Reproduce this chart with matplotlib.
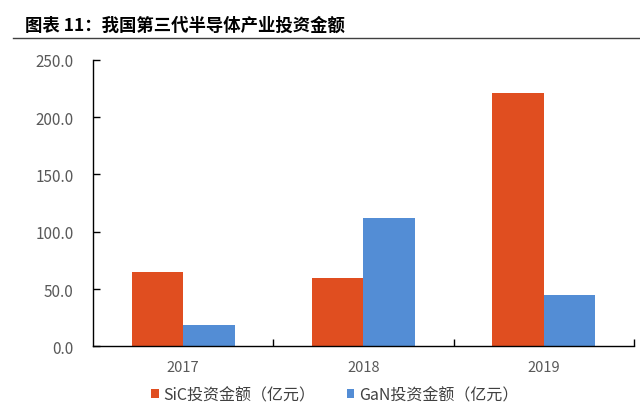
import matplotlib
matplotlib.use("Agg")
import matplotlib.pyplot as plt
from matplotlib.lines import Line2D
import numpy as np

plt.rcParams['font.family'] = ['Noto Sans CJK SC', 'DejaVu Sans']

years = ['2017', '2018', '2019']
sic = [65.1, 59.9, 220.8]
gan = [18.8, 111.7, 44.8]
series_names = ['SiC投资金额（亿元）', 'GaN投资金额（亿元）']
title = '图表 11：我国第三代半导体产业投资金额'

fig = plt.figure(figsize=(6.4, 4.14), dpi=100)
ax = fig.add_axes([0.1453, 0.1611, 0.8453, 0.692])

x = np.arange(len(years))
w = 0.285
ax.bar(x - w / 2, sic, w, color='#E04E20', label=series_names[0])
ax.bar(x + w / 2, gan, w, color='#538DD5', label=series_names[1])

ax.set_xlim(-0.5, len(years) - 0.5)
ax.set_ylim(0, 250)
ax.set_yticks(np.arange(0, 251, 50))
ax.set_yticklabels([f'{v:.1f}' for v in np.arange(0, 251, 50)])
ax.set_xticks(x)
ax.set_xticklabels(years)
ax.set_xticks(np.arange(len(years)) + 0.5, minor=True)

for s in ['top', 'right']:
    ax.spines[s].set_visible(False)
for s in ['left', 'bottom']:
    ax.spines[s].set_color('black')
    ax.spines[s].set_linewidth(1.0)

ax.tick_params(axis='y', direction='in', length=5, width=1, colors='black',
               labelcolor='#595959', labelsize=11, pad=14)
ax.tick_params(axis='x', which='major', length=0, labelcolor='#595959',
               labelsize=10.5, pad=10)
ax.tick_params(axis='x', which='minor', direction='in', length=5, width=1,
               colors='black')

leg = fig.legend(handles=ax.patches[::3], labels=series_names, loc='center',
                 bbox_to_anchor=(335 / 640, 0.044), ncol=2, frameon=False,
                 fontsize=11.5, handlelength=0.45, handleheight=0.45,
                 handletextpad=0.3, columnspacing=2.0)
for t in leg.get_texts():
    t.set_color('#404040')

fig.text(25 / 640, 0.938, title, fontsize=12.5, fontweight='bold', color='black',
         va='center', ha='left')
fig.add_artist(Line2D([0.02, 1.0], [0.906, 0.906], transform=fig.transFigure,
                      color='#404040', linewidth=1.0))

fig.savefig('out.png', dpi=100)
